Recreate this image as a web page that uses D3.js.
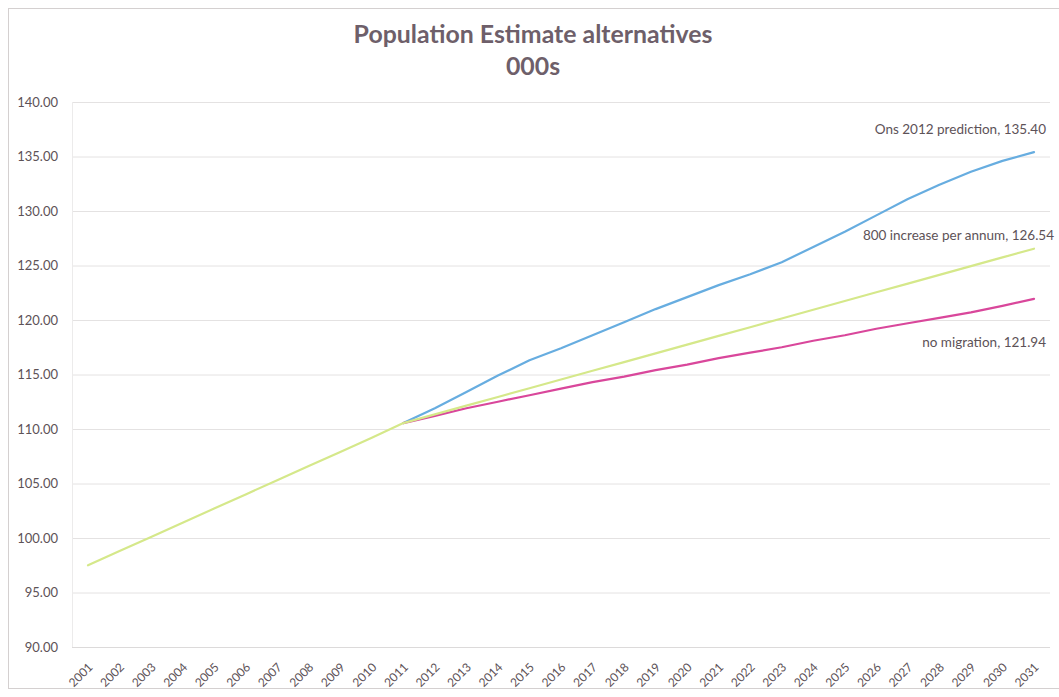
<!DOCTYPE html>
<html>
<head>
<meta charset="utf-8">
<script src="https://cdn.jsdelivr.net/npm/d3@7"></script>
<style>
  html, body { margin: 0; padding: 0; background: #ffffff; }
  svg { display: block; }
</style>
</head>
<body>
<svg id="chart" width="1059" height="697"></svg>
<script>
// ---- data ----
const years = ["2001","2002","2003","2004","2005","2006","2007","2008","2009","2010",
  "2011","2012","2013","2014","2015","2016","2017","2018","2019","2020",
  "2021","2022","2023","2024","2025","2026","2027","2028","2029","2030","2031"];

const yTicks = [90, 95, 100, 105, 110, 115, 120, 125, 130, 135, 140];

const onsValues = [null,null,null,null,null,null,null,null,null,null,
  110.54, 111.9, 113.4, 114.9, 116.3, 117.4, 118.6, 119.8, 121.0, 122.1,
  123.2, 124.2, 125.3, 126.7, 128.1, 129.6, 131.1, 132.4, 133.6, 134.6, 135.40];

const noMigrationValues = [null,null,null,null,null,null,null,null,null,null,
  110.54, 111.2, 111.9, 112.5, 113.1, 113.7, 114.3, 114.8, 115.4, 115.9,
  116.5, 117.0, 117.5, 118.1, 118.6, 119.2, 119.7, 120.2, 120.7, 121.3, 121.94];

const increase800Values = [97.5, 98.8, 100.1, 101.4, 102.7, 104.0, 105.3, 106.6, 107.9, 109.2,
  110.54, 111.34, 112.14, 112.94, 113.74, 114.54, 115.34, 116.14, 116.94, 117.74,
  118.54, 119.34, 120.14, 120.94, 121.74, 122.54, 123.34, 124.14, 124.94, 125.74, 126.54];

const seriesNames = ["Ons 2012 prediction", "no migration", "800 increase per annum"];
const seriesColors = ["#67ade0", "#d9479b", "#d5e88a"];
const titleLines = ["Population Estimate alternatives", "000s"];

// ---- layout ----
const svg = d3.select("#chart");
const W = 1059, H = 697;
const plotLeft = 72, plotRight = 1050, plotTop = 102, plotBottom = 647;
const fontFamily = "Lato, 'Open Sans', sans-serif";

const x = d3.scalePoint().domain(years).range([88, 1034]);
const y = d3.scaleLinear().domain([90, 140]).range([plotBottom, plotTop]);

// chart border (faint)
svg.append("rect")
  .attr("x", 8.5).attr("y", 8.5).attr("width", W - 8).attr("height", 680)
  .attr("fill", "none").attr("stroke", "#d4d0d0").attr("stroke-width", 1);

// gridlines + y labels
const yAxis = d3.axisLeft(y).tickValues(yTicks).tickFormat(d3.format(".2f"))
  .tickSize(-(plotRight - plotLeft)).tickPadding(14);
const gy = svg.append("g").attr("transform", `translate(${plotLeft},0)`).call(yAxis);
gy.select(".domain").remove();
gy.selectAll(".tick line").attr("stroke", "#e4e2e2").attr("stroke-width", 1);
gy.selectAll(".tick text")
  .attr("fill", "#5d5257").style("font-family", fontFamily)
  .style("font-size", "13px");

// faint left axis line
svg.append("line")
  .attr("x1", plotLeft + 0.5).attr("x2", plotLeft + 0.5)
  .attr("y1", plotTop).attr("y2", plotBottom)
  .attr("stroke", "#ecebeb");

// x axis labels
const xAxis = d3.axisBottom(x).tickSize(0).tickPadding(0);
const gx = svg.append("g").attr("transform", `translate(0,${plotBottom})`).call(xAxis);
gx.select(".domain").attr("stroke", "#dcdada").attr("d", `M${plotLeft},0.5H${plotRight}`);
gx.selectAll(".tick text")
  .attr("fill", "#5d5257")
  .style("font-family", fontFamily)
  .style("font-size", "12px")
  .attr("text-anchor", "end")
  .attr("dy", null)
  .attr("transform", "translate(5,21) rotate(-45)");

// lines
const seriesData = [onsValues, noMigrationValues, increase800Values];
const line = d3.line()
  .defined(d => d != null)
  .x((d, i) => x(years[i]))
  .y(d => y(d));

[0, 1, 2].forEach(si => {
  svg.append("path")
    .datum(seriesData[si])
    .attr("fill", "none")
    .attr("stroke", seriesColors[si])
    .attr("stroke-width", 2.2)
    .attr("stroke-linejoin", "round")
    .attr("stroke-linecap", "round")
    .attr("d", line);
});

// end labels
const labelOffsets = [[12, -18], [12, 48], [20, -9]];
seriesData.forEach((vals, si) => {
  const last = vals[vals.length - 1];
  svg.append("text")
    .attr("x", x(years[years.length - 1]) + labelOffsets[si][0])
    .attr("y", y(last) + labelOffsets[si][1])
    .attr("text-anchor", "end")
    .attr("fill", "#5d5257")
    .style("font-family", fontFamily)
    .style("font-size", "13.5px")
    .text(`${seriesNames[si]}, ${d3.format(".2f")(last)}`);
});

// title (sized so the first line spans the same width as the reference)
const titleSel = svg.selectAll(".title").data(titleLines).enter().append("text")
  .attr("class", "title")
  .attr("x", 533).attr("y", (d, i) => 43 + i * 32)
  .attr("text-anchor", "middle")
  .attr("fill", "#6e5f6a")
  .style("font-family", fontFamily)
  .style("font-weight", "bold")
  .style("font-size", "20px")
  .text(d => d);
const w0 = titleSel.node().getComputedTextLength();
const fs = Math.min(26, 20 * 359 / w0);
titleSel.style("font-size", fs + "px");
</script>
</body>
</html>
